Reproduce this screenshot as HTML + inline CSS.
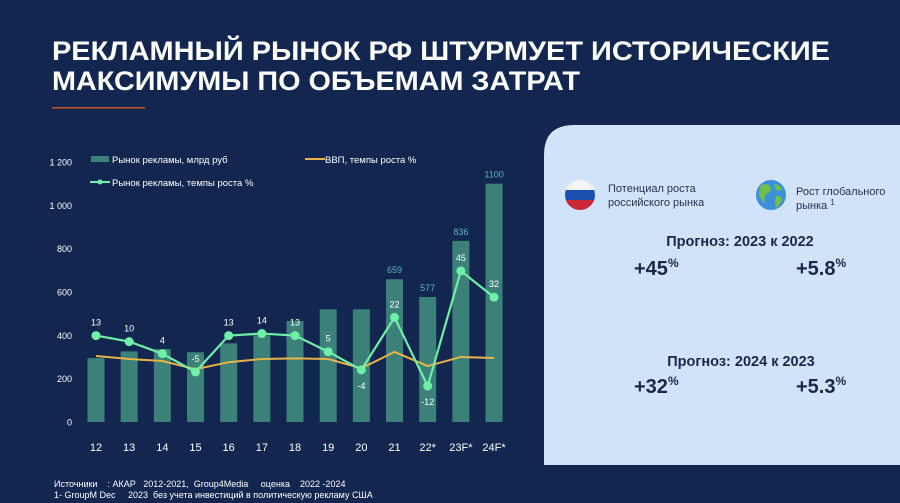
<!DOCTYPE html>
<html><head><meta charset="utf-8"><style>
html,body{margin:0;padding:0;background:#13264f;}
svg{display:block;font-family:"Liberation Sans",sans-serif;}
.pre{white-space:pre;}
</style></head><body>
<svg width="900" height="503" viewBox="0 0 900 503">
<rect width="900" height="503" fill="#13264f"/>
<text x="52" y="60" font-size="27" font-weight="bold" fill="#fff" textLength="778" lengthAdjust="spacingAndGlyphs">РЕКЛАМНЫЙ РЫНОК  РФ ШТУРМУЕТ ИСТОРИЧЕСКИЕ</text>
<text x="52" y="90" font-size="27" font-weight="bold" fill="#fff" textLength="528" lengthAdjust="spacingAndGlyphs">МАКСИМУМЫ ПО ОБЪЕМАМ ЗАТРАТ</text>
<rect x="52" y="107" width="93" height="1.5" fill="#c8542a"/>

<path d="M544,465 L544,155 Q544,125 574,125 L900,125 L900,465 Z" fill="#d0e3f9"/>
<g>
<clipPath id="fc"><circle cx="580" cy="195" r="15"/></clipPath>
<g clip-path="url(#fc)"><rect x="565" y="180" width="30" height="10" fill="#f4f4f4"/><rect x="565" y="190" width="30" height="10" fill="#1a4fb0"/><rect x="565" y="200" width="30" height="10" fill="#c8283a"/></g>
</g>
<text font-size="11" fill="#27324e"><tspan x="608" y="192">Потенциал роста</tspan><tspan x="608" y="206">российского рынка</tspan></text>
<g>
<circle cx="771" cy="195" r="15" fill="#3d8fdc"/>
<path d="M760,186 q6,-4 10,0 q2,5 -3,8 q-4,3 -2,9 q-5,-3 -6,-9 z M774,184 q6,0 8,5 q-3,3 -6,1 z M776,196 q5,-1 6,4 q-2,6 -6,8 q-2,-6 0,-12 z" fill="#6fbf4a"/>
</g>
<text font-size="11" fill="#27324e"><tspan x="796" y="195">Рост глобального</tspan><tspan x="796" y="209">рынка </tspan><tspan font-size="8" dy="-4">1</tspan></text>
<text x="740" y="246" font-size="14.5" font-weight="bold" fill="#1c2748" text-anchor="middle">Прогноз: 2023 к 2022</text>
<text x="634" y="275" font-size="20" font-weight="bold" fill="#1c2748">+45<tspan font-size="12" dy="-8">%</tspan></text>
<text x="796" y="275" font-size="20" font-weight="bold" fill="#1c2748">+5.8<tspan font-size="12" dy="-8">%</tspan></text>
<text x="741" y="366" font-size="14.5" font-weight="bold" fill="#1c2748" text-anchor="middle">Прогноз: 2024 к 2023</text>
<text x="634" y="393" font-size="20" font-weight="bold" fill="#1c2748">+32<tspan font-size="12" dy="-8">%</tspan></text>
<text x="796" y="393" font-size="20" font-weight="bold" fill="#1c2748">+5.3<tspan font-size="12" dy="-8">%</tspan></text>

<g id="chart"></g>

<text x="54" y="487" font-size="9" fill="#fff" class="pre">Источники    : АКАР   2012-2021,  Group4Media     оценка    2022 -2024</text>
<text x="54" y="498" font-size="9" fill="#fff" class="pre">1- GroupM Dec     2023  без учета инвестиций в политическую рекламу США</text>
</svg>
<script>
const categories=["12","13","14","15","16","17","18","19","20","21","22*","23F*","24F*"];
const marketValues=[295,326,337,322,363,400,466,520,520,659,577,836,1100];
const marketLabels=["","","","","","","","","","659","577","836","1100"];
const growthValues=[13,10,4,-5,13,14,13,5,-4,22,-12,45,32];
const gdpValues=[2.9,1.4,0.4,-3.7,-0.2,1.4,1.7,1.4,-3.2,4.9,-2.1,2.4,1.9];
const yTicks=[0,200,400,600,800,1000,1200];
const yTickLabels=["0","200","400","600","800","1 000","1 200"];

const NS="http://www.w3.org/2000/svg";
const g=document.getElementById('chart');
function mk(t,a,txt){const e=document.createElementNS(NS,t);for(const k in a)e.setAttribute(k,a[k]);if(txt!==undefined)e.textContent=txt;g.appendChild(e);return e;}
const x0=96,step=33.17;
function xS(i){return x0+i*step;}
function yS(v){return 422-v*(260/1200);}
function yP(v){return 361.8-2.018*v;}

yTicks.forEach((t,i)=>{
 const e=mk('text',{x:72,y:yS(t)+3.5,'font-size':9,fill:'#fff','text-anchor':'end'},yTickLabels[i]);
 
 
});
categories.forEach((c,i)=>{
 const b=mk('rect',{x:xS(i)-8.5,y:yS(marketValues[i]),width:17,height:yS(0)-yS(marketValues[i]),fill:'#3b8079'});
 
 
 const l=mk('text',{x:xS(i),y:451,'font-size':11,fill:'#fff','text-anchor':'middle'},c);
 
 
 if(marketLabels[i]){
  const v=mk('text',{x:xS(i),y:yS(marketValues[i])-6,'font-size':9,fill:'#5bb8b0','text-anchor':'middle'},marketLabels[i]);
  
  
 }
});
const gdp=mk('polyline',{points:gdpValues.map((v,i)=>xS(i)+','+yP(v)).join(' '),fill:'none',stroke:'#e8b34a','stroke-width':2});


const gl=mk('polyline',{points:growthValues.map((v,i)=>xS(i)+','+yP(v)).join(' '),fill:'none',stroke:'#6fefa8','stroke-width':2.2});


growthValues.forEach((v,i)=>{
 const p=mk('circle',{cx:xS(i),cy:yP(v),r:4.5,fill:'#6fefa8'});
 
 
 const below=(v<0&&i!==3);
 const t=mk('text',{x:xS(i),y:below?yP(v)+19:yP(v)-10,'font-size':9,fill:'#fff','text-anchor':'middle'},String(v));
 
 
});
const s1=mk('rect',{x:91,y:156,width:18,height:6,fill:'#3b8079'});


const t1=mk('text',{x:112,y:163,'font-size':9.5,fill:'#fff'},'Рынок рекламы, млрд руб');


const s2=mk('line',{x1:305,y1:159,x2:325,y2:159,stroke:'#e8b34a','stroke-width':2});


const t2=mk('text',{x:325,y:163,'font-size':9.5,fill:'#fff'},'ВВП, темпы роста %');


const s3=mk('line',{x1:90,y1:182,x2:110,y2:182,stroke:'#6fefa8','stroke-width':2});


const s3d=mk('circle',{cx:100,cy:182,r:2.5,fill:'#6fefa8'});


const t3=mk('text',{x:112,y:186,'font-size':9.5,fill:'#fff'},'Рынок рекламы, темпы роста %');


</script>
</body></html>
